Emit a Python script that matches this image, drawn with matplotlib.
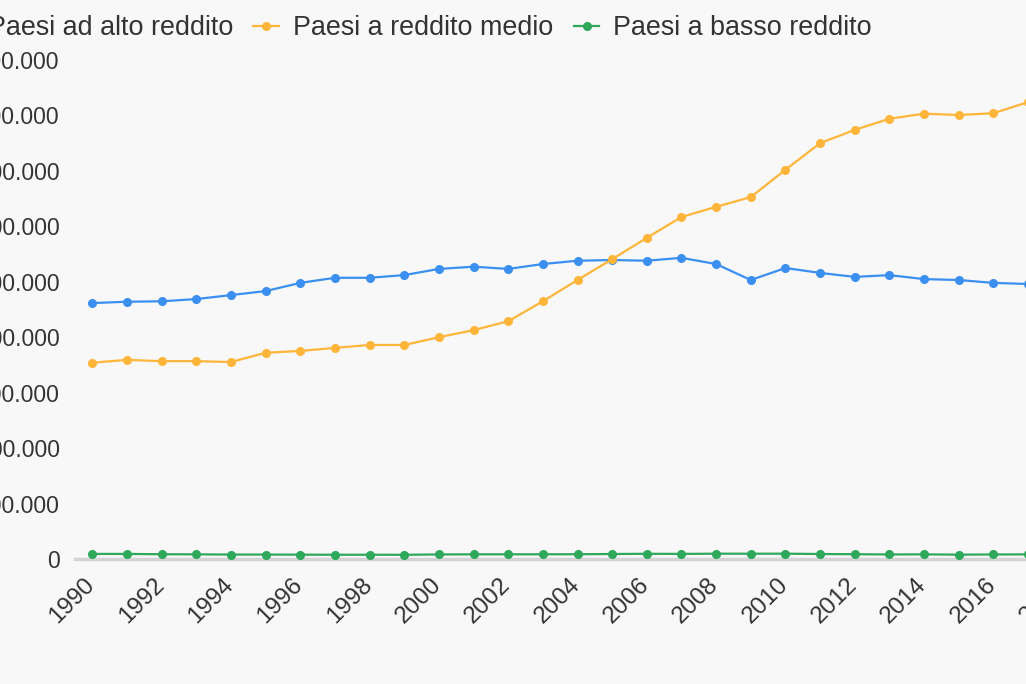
import matplotlib.pyplot as plt
import matplotlib.transforms as mtransforms
from matplotlib.ticker import FuncFormatter, MultipleLocator

years = list(range(1990, 2019))

# valori
alto = [11.54e6, 11.60e6, 11.62e6, 11.72e6, 11.90e6, 12.08e6, 12.45e6, 12.68e6,
        12.68e6, 12.80e6, 13.08e6, 13.18e6, 13.08e6, 13.30e6, 13.45e6, 13.48e6,
        13.45e6, 13.58e6, 13.30e6, 12.58e6, 13.12e6, 12.90e6, 12.72e6, 12.80e6,
        12.62e6, 12.58e6, 12.45e6, 12.40e6, 12.35e6]
medio = [8.85e6, 8.98e6, 8.92e6, 8.92e6, 8.88e6, 9.30e6, 9.38e6, 9.52e6,
         9.65e6, 9.65e6, 10.00e6, 10.32e6, 10.72e6, 11.62e6, 12.58e6, 13.52e6,
         14.48e6, 15.42e6, 15.88e6, 16.32e6, 17.55e6, 18.75e6, 19.35e6, 19.85e6,
         20.08e6, 20.02e6, 20.10e6, 20.60e6, 20.90e6]
basso = [230e3, 228e3, 215e3, 210e3, 200e3, 200e3, 195e3, 192e3,
         192e3, 190e3, 205e3, 210e3, 212e3, 212e3, 215e3, 225e3,
         235e3, 230e3, 240e3, 238e3, 240e3, 225e3, 215e3, 205e3,
         210e3, 195e3, 205e3, 208e3, 210e3]

labels = ['Paesi ad alto reddito', 'Paesi a reddito medio', 'Paesi a basso reddito']
colors = ['#3a8ff0', '#ffb53a', '#2ea85a']

plt.rcParams['font.family'] = ['Liberation Sans', 'DejaVu Sans']
bg = '#f8f8f8'
txt = '#333333'

fig = plt.figure(figsize=(10.26, 6.84), dpi=100, facecolor=bg)
ax = fig.add_axes([75 / 1026, 125 / 684, 1005 / 1026, 499 / 684])
ax.set_facecolor(bg)

for serie, lab, col in zip([alto, medio, basso], labels, colors):
    ax.plot(years, serie, color=col, lw=1.6, marker='o', ms=5.5,
            label=lab, clip_on=False, zorder=3)

ax.set_xlim(1989.5, 2018.5)
ax.set_ylim(0, 22.5e6)
ax.yaxis.set_major_locator(MultipleLocator(2.5e6))
ax.yaxis.set_major_formatter(FuncFormatter(lambda v, p: f'{int(v):,}'.replace(',', '.')))
ax.set_xticks(years[::2])

for s in ['top', 'right', 'left']:
    ax.spines[s].set_visible(False)
ax.spines['bottom'].set_color('#d4d4d4')
ax.spines['bottom'].set_linewidth(2.5)
ax.tick_params(axis='both', length=0, labelcolor=txt)
ax.tick_params(axis='y', pad=11, labelsize=16.5)
ax.tick_params(axis='x', pad=16, labelsize=17.5)
shift = mtransforms.ScaledTranslation(-1 / 100, 0, fig.dpi_scale_trans)
for t in ax.get_xticklabels():
    t.set_rotation(45)
    t.set_ha('right')
    t.set_va('center')
    t.set_rotation_mode('anchor')
    t.set_transform(t.get_transform() + shift)

fig.legend(loc='center left', bbox_to_anchor=(-52 / 1026, 1 - 28 / 684), ncol=3,
           frameon=False, fontsize=19.4, labelcolor=txt, handlelength=0.95,
           handletextpad=0.52, columnspacing=0.76, borderaxespad=0, borderpad=0)

fig.savefig('out.png', dpi=100, facecolor=bg)
